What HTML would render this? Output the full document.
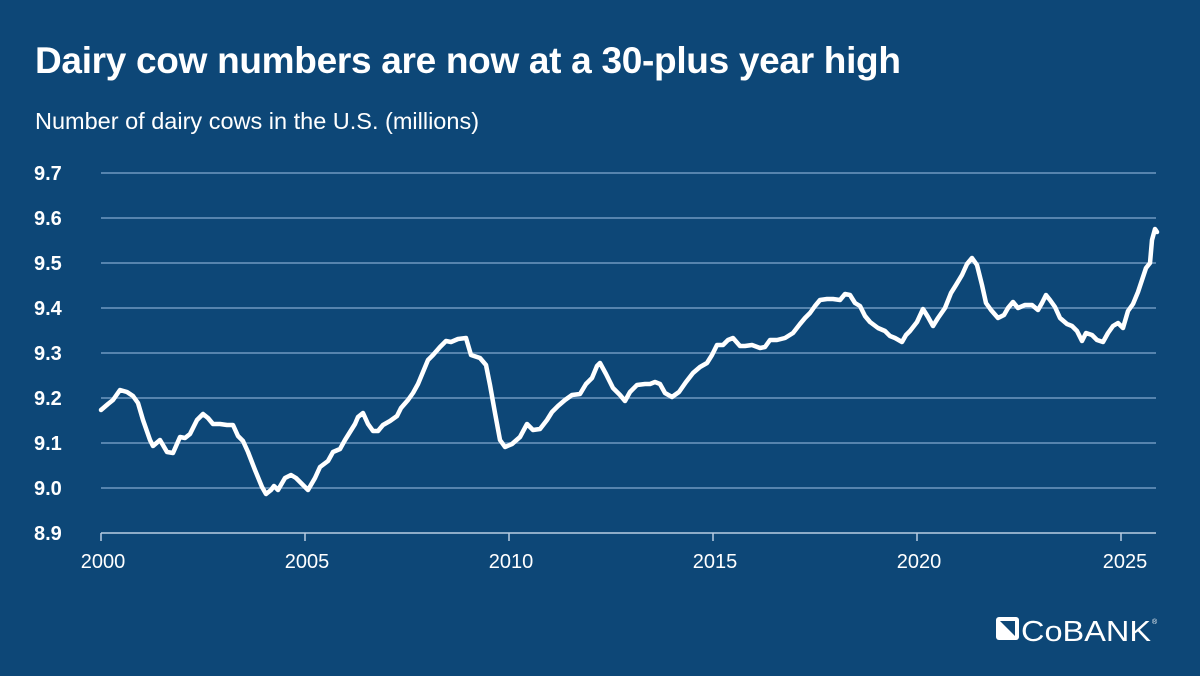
<!DOCTYPE html>
<html><head><meta charset="utf-8"><style>
html,body{margin:0;padding:0}
body{width:1200px;height:676px;background:#0d4777;overflow:hidden;font-family:"Liberation Sans",Arial,sans-serif;color:#fff;position:relative}
.t{position:absolute;left:35px;top:40px;font-size:37px;font-weight:bold;letter-spacing:-0.3px}
.s{position:absolute;left:35px;top:108px;font-size:23.5px}
</style></head><body>
<div class="t">Dairy cow numbers are now at a 30-plus year high</div>
<div class="s">Number of dairy cows in the U.S. (millions)</div>
<svg width="1200" height="676" style="position:absolute;left:0;top:0">
<g stroke="#6f98c0" stroke-width="1.5">
<line x1="101" x2="1156" y1="173" y2="173"/><line x1="101" x2="1156" y1="218" y2="218"/>
<line x1="101" x2="1156" y1="263" y2="263"/><line x1="101" x2="1156" y1="308" y2="308"/>
<line x1="101" x2="1156" y1="353" y2="353"/><line x1="101" x2="1156" y1="398" y2="398"/>
<line x1="101" x2="1156" y1="443" y2="443"/><line x1="101" x2="1156" y1="488" y2="488"/>
</g>
<g stroke="#b9cde2" stroke-width="1.5">
<line x1="101" x2="1156" y1="533" y2="533"/>
<line x1="101" x2="101" y1="533" y2="541"/><line x1="305" x2="305" y1="533" y2="541"/>
<line x1="509" x2="509" y1="533" y2="541"/><line x1="713" x2="713" y1="533" y2="541"/>
<line x1="917" x2="917" y1="533" y2="541"/><line x1="1121" x2="1121" y1="533" y2="541"/>
</g>
<g fill="#fff" font-size="20" font-family="Liberation Sans,Arial,sans-serif">
<g font-weight="bold">
<text x="34" y="180">9.7</text><text x="34" y="225">9.6</text><text x="34" y="270">9.5</text>
<text x="34" y="315">9.4</text><text x="34" y="360">9.3</text><text x="34" y="405">9.2</text>
<text x="34" y="450">9.1</text><text x="34" y="495">9.0</text><text x="34" y="540">8.9</text>
</g>
<g text-anchor="middle">
<text x="103" y="568">2000</text><text x="307" y="568">2005</text><text x="511" y="568">2010</text>
<text x="715" y="568">2015</text><text x="919" y="568">2020</text><text x="1125" y="568">2025</text>
</g></g>
<polyline fill="none" stroke="#fff" stroke-width="4.5" stroke-linejoin="round" stroke-linecap="round" points="101,410 108,404 113,400 120,390 127,392 133,396 138,403 143,420 150,440 153,446 160,440 167,452 173,453 180,437 185,438 190,434 197,420 203,414 208,418 213,424 220,424 227,425 233,425 238,436 243,441 248,452 255,470 262,487 266,494 271,490 274,486 278,490 285,478 291,475 296,478 302,484 308,490 315,478 320,467 328,461 333,452 340,449 345,440 350,432 355,424 358,417 363,413 368,424 373,431 378,431 383,425 390,421 397,416 401,408 408,400 413,393 418,384 423,372 428,360 433,355 440,347 446,341 451,342 458,339 466,338 471,355 480,358 486,365 490,385 495,413 500,440 505,447 512,444 520,437 527,424 533,430 540,429 547,420 552,412 558,406 565,400 572,395 580,394 586,384 592,378 597,366 600,363 606,374 613,388 620,395 625,401 630,392 637,385 645,384 650,384 655,382 660,384 665,393 672,397 679,392 686,382 693,373 700,367 707,363 712,355 717,345 723,345 728,340 733,338 740,346 745,346 752,345 760,348 765,347 770,340 777,340 785,338 793,333 800,324 805,318 810,313 815,306 820,300 827,299 833,299 840,300 845,294 850,295 855,303 860,306 865,316 870,322 878,328 885,331 890,336 895,338 902,342 906,335 910,331 917,322 923,309 928,317 933,326 938,318 945,308 951,293 956,285 962,275 967,264 972,258 977,265 982,285 986,303 991,310 998,318 1004,315 1008,308 1013,302 1018,308 1025,305 1032,305 1038,310 1042,303 1046,295 1050,300 1055,307 1060,318 1067,324 1072,326 1077,331 1082,341 1086,333 1092,335 1097,340 1103,342 1108,333 1113,326 1118,323 1123,328 1128,311 1133,304 1138,292 1142,280 1146,268 1150,263 1152,240 1155,229 1157,232"/>
<g transform="translate(996,617)">
<rect x="0" y="0" width="23" height="23" rx="3" fill="#fff"/>
<path d="M4 4 L19 19 L19 4 Z" fill="#0d4777"/>
</g>
<text x="1021" y="641" fill="#fff" font-size="29" font-family="Liberation Sans,Arial,sans-serif" textLength="130" lengthAdjust="spacingAndGlyphs">CoBANK</text>
<text x="1152" y="624" fill="#fff" font-size="7">®</text>
</svg>
</body></html>
